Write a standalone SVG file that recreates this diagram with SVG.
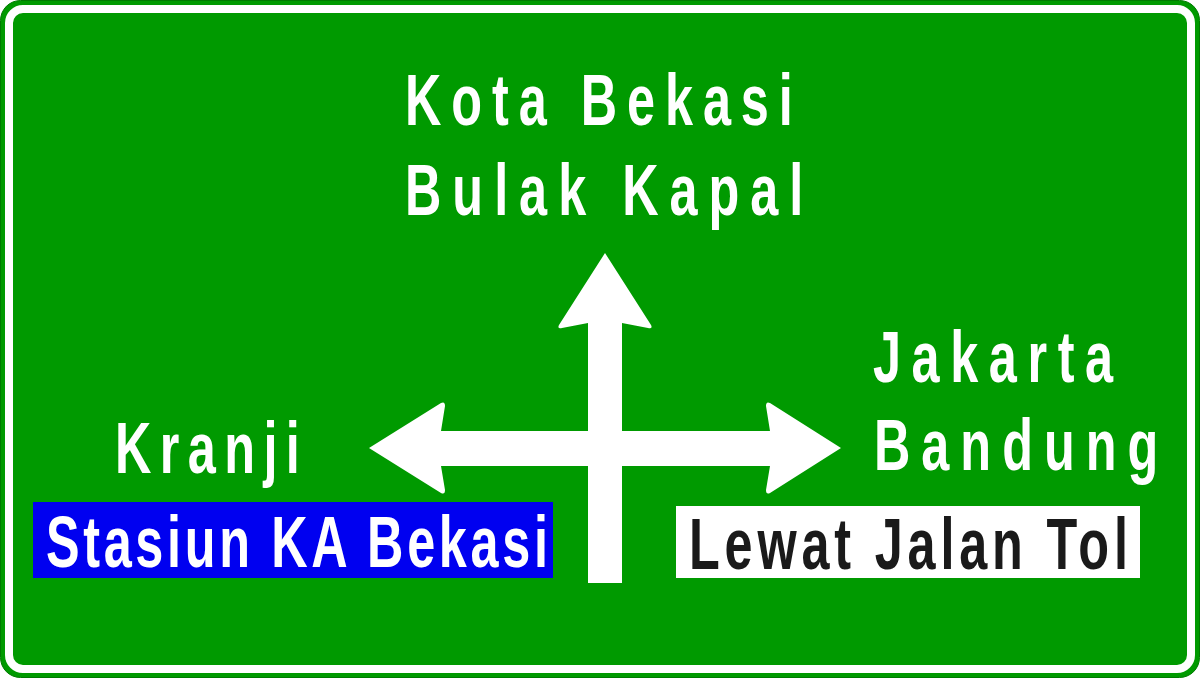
<svg xmlns="http://www.w3.org/2000/svg" width="1200" height="678" viewBox="0 0 1200 678">
  <style>
    .t { font-family: "Liberation Sans", Arial, sans-serif; font-weight: bold; font-size: 72px; fill: #ffffff; }
    .dark { fill: #1a1a1a; }
  </style>
  <g id="sign-background">
    <rect x="0" y="0" width="1200" height="678" fill="#ffffff"/>
    <rect x="0.5" y="0.5" width="1199" height="677" rx="20" ry="20" fill="#009a00" stroke="#007a00" stroke-width="1"/>
    <rect x="9" y="9" width="1182" height="660" rx="14" ry="14" fill="none" stroke="#ffffff" stroke-width="8"/>
  </g>
  <g id="connectors">
    <path d="M605,253 L651,325 Q653,329 648,328 L622,323 L622,431 L770,431 L766,406 Q766,401 770,403 L841,448 L770,493 Q766,495 766,490 L770,466 L622,466 L622,583 L588,583 L588,466 L441,466 L445,490 Q445,495 441,493 L369,448 L441,403 Q445,401 445,406 L441,431 L588,431 L588,323 L562,328 Q557,329 559,325 Z" fill="#ffffff"/>
  </g>
  <g id="node-straight">
    <text class="t" transform="translate(405,125) scale(0.7,1)" textLength="554" lengthAdjust="spacing">Kota Bekasi</text>
    <text class="t" transform="translate(405,215) scale(0.7,1)" textLength="569" lengthAdjust="spacing">Bulak Kapal</text>
  </g>
  <g id="node-right">
    <text class="t" transform="translate(873,382) scale(0.7,1)" textLength="343" lengthAdjust="spacing">Jakarta</text>
    <text class="t" transform="translate(874,470) scale(0.7,1)" textLength="406" lengthAdjust="spacing">Bandung</text>
  </g>
  <g id="node-left">
    <text class="t" transform="translate(115,473) scale(0.7,1)" textLength="264" lengthAdjust="spacing">Kranji</text>
  </g>
  <g id="node-station">
    <rect x="33" y="502" width="520" height="76" fill="#0000f0"/>
    <text class="t" transform="translate(46,567) scale(0.7,1)" textLength="717" lengthAdjust="spacing">Stasiun KA Bekasi</text>
  </g>
  <g id="node-toll">
    <rect x="676" y="506" width="464" height="72" fill="#ffffff"/>
    <text class="t dark" transform="translate(689,569) scale(0.7,1)" textLength="627" lengthAdjust="spacing">Lewat Jalan Tol</text>
  </g>
</svg>
